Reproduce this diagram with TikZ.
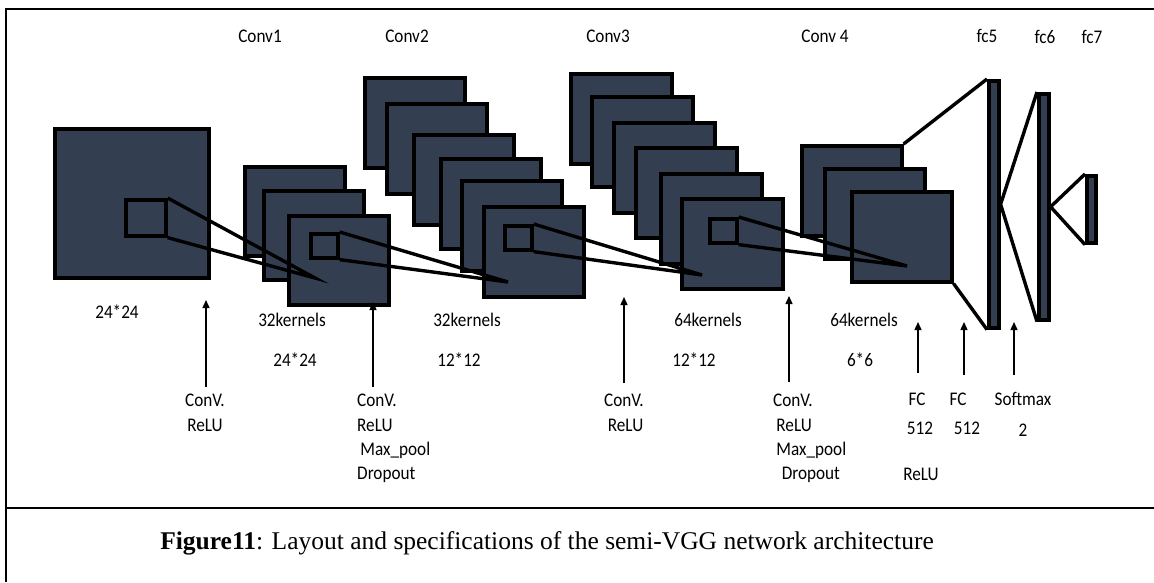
\documentclass[tikz,border=0pt]{standalone}
\usepackage{fontspec}
\setmainfont{Carlito}[FakeStretch=0.89]
\newfontfamily\capfont{Liberation Serif}
\usepackage{tikz}
\usetikzlibrary{arrows.meta,calc}
\definecolor{mapfill}{HTML}{333F50}

\begin{document}
\begin{tikzpicture}
	[
	 x = 1pt,
	 y = -1pt,
	 every node/.style = {inner sep = 0pt,
	                      font = \fontsize{19.3}{24.4}\selectfont},
	 fmap/.style = {shape=rectangle,
	                draw,
	                fill = mapfill,
	                line width = 3.6pt,
	                anchor = north west,
	                minimum width = 100pt,
	                minimum height = 90pt},
	 win/.style  = {fmap,
	                minimum width = 27pt,
	                minimum height = 24pt},
	 fcbar/.style = {fmap,
	                 minimum width = 10pt},
	 link/.style = {line width = 3.4pt},
	 feed/.style = {line width = 1.4pt,
	                -{Triangle[length=8pt,width=7pt]}},
	 frame/.style = {line width = 2pt}
	]

	\useasboundingbox (0,0) rectangle (1154,582);
	\draw[frame] (1154,9) -- (6,9) -- (6,582);
	\draw[frame] (6,508) -- (1154,508);

	% input image
	\node[fmap, minimum width=154pt, minimum height=149pt] (in) at (53,127) {};
	\node[win, minimum width=40pt, minimum height=36pt] (inw) at (124,198) {};

	% conv stacks
	\foreach \x/\y [count=\i] in {243/165, 262/189, 287/214}
		\node[fmap, minimum height=89pt] (c1m\i) at (\x,\y) {};
	\foreach \x/\y [count=\i] in {363/76, 385/102, 412/133, 439/157, 460/179, 482/205}
		\node[fmap] (c2m\i) at (\x,\y) {};
	\foreach \x/\y [count=\i] in {569/72, 590/95, 612/121, 634/146, 659/172, 680/197}
		\node[fmap, minimum width=101pt] (c3m\i) at (\x,\y) {};
	\foreach \x/\y [count=\i] in {800/144, 823/167, 850/190}
		\node[fmap] (c4m\i) at (\x,\y) {};

	\node[win] (c1w) at (309,232) {};
	\node[win] (c2w) at (503,224) {};
	\node[win] (c3w) at (708,217) {};

	% fully connected
	\node[fcbar, minimum height=247pt] (fc5) at (987,79) {};
	\node[fcbar, minimum height=226pt] (fc6) at (1037,92) {};
	\node[fcbar, minimum width=9pt, minimum height=67pt] (fc7) at (1085,174) {};

	\coordinate (p1) at (315,278);
	\coordinate (p2) at (508,282);
	\coordinate (p3) at (702,275);
	\coordinate (p4) at (907,266);

	\draw[link] (inw.north east) -- (p1) -- (inw.south east);
	\draw[link] (c1w.north east) -- (p2) -- (c1w.south east);
	\draw[link] (c2w.north east) -- (p3) -- (c2w.south east);
	\draw[link] (c3w.north east) -- (p4) -- (c3w.south east);
	\draw[link] (c4m1.north east) -- (fc5.north west);
	\draw[link] (c4m3.south east) -- (fc5.south west);
	\draw[link] (fc6.north west) -- (fc5.east) -- (fc6.south west);
	\draw[link] (fc7.north west) -- (fc6.east) -- (fc7.south west);

	% layer names
	\node (t1) at (260,36)  {Conv1};
	\node (t2) at (407,36)  {Conv2};
	\node (t3) at (608,36)  {Conv3};
	\node (t4) at (825,36)  {Conv 4};
	\node (t5) at (987,36)  {fc5};
	\node (t6) at (1045,37) {fc6};
	\node (t7) at (1092,37) {fc7};

	% sizes
	\node (s0)  at (117,312) {24*24};
	\node (k1)  at (292,320) {32kernels};
	\node (s1)  at (295,360) {24*24};
	\node (k2)  at (467,320) {32kernels};
	\node (s2)  at (459,360) {12*12};
	\node (k3)  at (708,320) {64kernels};
	\node (s3)  at (694,360) {12*12};
	\node (k4)  at (864,320) {64kernels};
	\node (s4)  at (860,360) {6*6};

	% operations
	\node[align=center, anchor=north] (o1) at (205,394) {ConV.\\ReLU};
	\node[align=left, anchor=north west] (o2) at (357,394) {ConV.\\ReLU\\\,Max\_pool\\Dropout};
	\node[align=center, anchor=north] (o3) at (624,394) {ConV.\\\,ReLU};
	\node[align=left, anchor=north west] (o4) at (773,394) {ConV.\\\,ReLU\\\,Max\_pool\\\;\,Dropout};
	\node (f5)  at (917,399)  {FC};
	\node (f6)  at (958,399)  {FC};
	\node (f7)  at (1023,399) {Softmax};
	\node (n5)  at (920,428)  {512};
	\node (n6)  at (967,428)  {512};
	\node (n7)  at (1023,430) {2};
	\node (r5)  at (921,474)  {ReLU};

	\foreach \x/\ya/\yb [count=\i] in {206/387/300, 373/387/302, 624/383/297, 789/382/296,
	                                   918/373/322, 964/375/322, 1014/375/322}
	{
		\coordinate (a\i s) at (\x,\ya);
		\coordinate (a\i e) at (\x,\yb);
		\draw[feed] (a\i s) -- (a\i e);
	}

	\node[font=\capfont\fontsize{25.5}{30}\selectfont] (cap) at (547,543)
		{\textbf{Figure11}: Layout and specifications of the semi-VGG network architecture};
\end{tikzpicture}
\end{document}
